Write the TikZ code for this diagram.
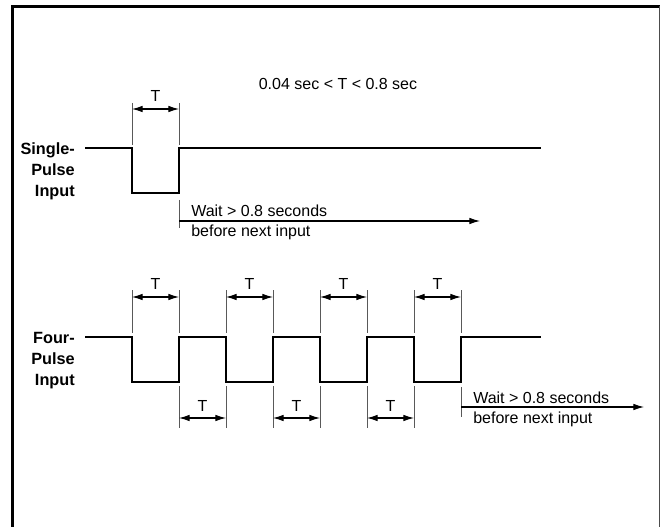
\documentclass[tikz,border=0pt]{standalone}
\usepackage{fontspec}
\setmainfont{Liberation Sans}
\usetikzlibrary{arrows.meta}
\begin{document}
\begin{tikzpicture}[x=0.75pt,y=-0.75pt,
  sig/.style={line width=1.2pt, line join=miter},
  ext/.style={line width=0.6pt, draw=black!65},
  dimarrow/.style={line width=0.9pt, {Latex[length=8pt,width=5pt]}-{Latex[length=8pt,width=5pt]}},
  waitarrow/.style={line width=0.9pt, -{Latex[length=8pt,width=5pt]}},
  lbl/.style={font=\fontsize{12.2}{14}\selectfont\bfseries, anchor=base east, inner sep=0pt},
  txt/.style={font=\fontsize{12}{14}\selectfont, inner sep=0pt},
]
\useasboundingbox (0,0) rectangle (660,527);
% frame
\draw[line width=2.2pt] (12.5,527) -- (12.5,6.5) -- (659.5,6.5);
\draw[line width=0.8pt, black!70] (659.2,6.5) -- (659.2,527);

% ---------- single pulse ----------
\node[lbl] (sl1) at (75,155) {Single-};
\node[lbl] (sl2) at (75,176) {Pulse};
\node[lbl] (sl3) at (75,197) {Input};

\node[txt, anchor=base] (range) at (338,90) {0.04 sec < T < 0.8 sec};

\coordinate (sa) at (85,148);
\coordinate (sd) at (132,148);
\coordinate (su) at (179,148);
\coordinate (se) at (541,148);
\draw[sig] (sa) -- (sd) -- (132,193) -- (179,193) -- (su) -- (se);

\coordinate (sxa) at (132,103);
\coordinate (sxb) at (179,103);
\draw[ext] (sxa) -- (132,145);
\draw[ext] (sxb) -- (179,145);
\coordinate (sda) at (132,109);
\coordinate (sdb) at (179,109);
\draw[dimarrow] (sda) -- (sdb);
\node[txt, anchor=base] (sT) at (155.5,102) {T};

\coordinate (sw0) at (179,200);
\coordinate (sw1) at (179,228);
\draw[ext] (sw0) -- (sw1);
\coordinate (swa) at (179,221);
\coordinate (swb) at (480,221);
\draw[waitarrow] (swa) -- (swb);
\node[txt, anchor=base west] (sw1t) at (191,217) {Wait > 0.8 seconds};
\node[txt, anchor=base west] (sw2t) at (191,237) {before next input};

% ---------- four pulse ----------
\node[lbl] (fl1) at (75,343) {Four-};
\node[lbl] (fl2) at (75,364) {Pulse};
\node[lbl] (fl3) at (75,385) {Input};

\draw[sig] (85,337)
  -- (132,337) -- (132,382) -- (179,382) -- (179,337)
  -- (226,337) -- (226,382) -- (273,382) -- (273,337)
  -- (320,337) -- (320,382) -- (367,382) -- (367,337)
  -- (414,337) -- (414,382) -- (461,382) -- (461,337)
  -- (541,337);

% upper dimensions
\foreach \d/\u [count=\i] in {132/179, 226/273, 320/367, 414/461} {
  \coordinate (fua\i) at (\d,297);
  \coordinate (fub\i) at (\u,297);
  \draw[ext] (\d,290) -- (\d,333);
  \draw[ext] (\u,290) -- (\u,333);
  \draw[dimarrow] (fua\i) -- (fub\i);
  \node[txt, anchor=base] (fuT\i) at ({(\d+\u)/2},289) {T};
}
% lower dimensions
\foreach \d/\u [count=\i] in {179/226, 273/320, 367/414} {
  \coordinate (fla\i) at (\d,418);
  \coordinate (flb\i) at (\u,418);
  \draw[ext] (\d,386) -- (\d,428);
  \draw[ext] (\u,386) -- (\u,428);
  \draw[dimarrow] (fla\i) -- (flb\i);
  \node[txt, anchor=base] (flT\i) at ({(\d+\u)/2},411) {T};
}

\coordinate (fw0) at (461,387);
\coordinate (fw1) at (461,417);
\draw[ext] (fw0) -- (fw1);
\coordinate (fwa) at (461,407);
\coordinate (fwb) at (644,407);
\draw[waitarrow] (fwa) -- (fwb);
\node[txt, anchor=base west] (fw1t) at (473,403) {Wait > 0.8 seconds};
\node[txt, anchor=base west] (fw2t) at (473,423) {before next input};
\end{tikzpicture}
\end{document}
